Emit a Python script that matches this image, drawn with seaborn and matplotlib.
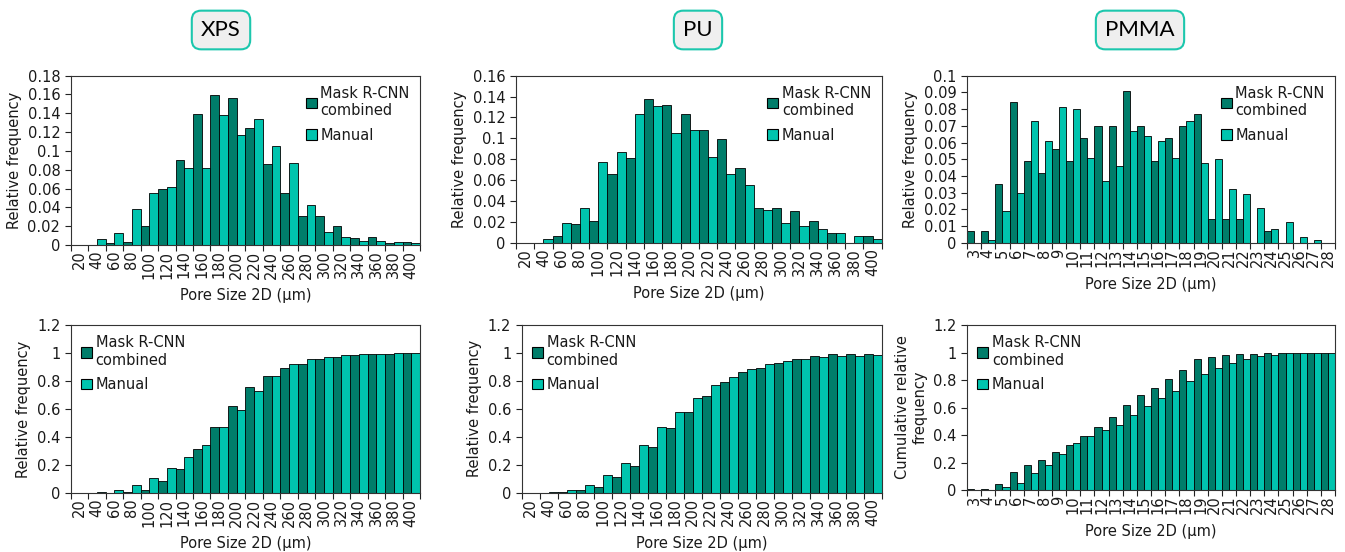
import numpy as np
import pandas as pd
import seaborn as sns
import matplotlib.pyplot as plt
from matplotlib.patches import Patch

# bins
um_sizes = [20, 40, 60, 80, 100, 120, 140, 160, 180, 200, 220, 240, 260, 280, 300,
            320, 340, 360, 380, 400]
pmma_sizes = list(range(3, 29))

# relative frequency (top row)
xps_mask = [0, 0, 0.002, 0.003, 0.020, 0.059, 0.090, 0.139, 0.159, 0.156, 0.124, 0.086,
            0.055, 0.031, 0.031, 0.020, 0.007, 0.009, 0.002, 0.003]
xps_manual = [0, 0.006, 0.013, 0.038, 0.055, 0.062, 0.082, 0.082, 0.138, 0.117, 0.134,
              0.105, 0.087, 0.043, 0.014, 0.009, 0.004, 0.004, 0.003, 0.002]
pu_mask = [0, 0, 0.006, 0.018, 0.021, 0.066, 0.081, 0.138, 0.132, 0.123, 0.108, 0.099,
           0.072, 0.033, 0.033, 0.030, 0.021, 0.009, 0, 0.006]
pu_manual = [0, 0.004, 0.019, 0.033, 0.077, 0.087, 0.123, 0.131, 0.105, 0.108, 0.082,
             0.066, 0.055, 0.031, 0.019, 0.016, 0.013, 0.009, 0.006, 0.004]
pmma_mask = [0.007, 0.007, 0.035, 0.084, 0.049, 0.042, 0.056, 0.049, 0.063, 0.070, 0.070,
             0.091, 0.070, 0.049, 0.063, 0.070, 0.077, 0.014, 0.014, 0.014, 0, 0.007,
             0, 0, 0, 0]
pmma_manual = [0, 0.0015, 0.019, 0.030, 0.073, 0.061, 0.081, 0.080, 0.051, 0.037, 0.046,
               0.067, 0.064, 0.061, 0.051, 0.073, 0.048, 0.050, 0.032, 0.029, 0.021,
               0.008, 0.0125, 0.0035, 0.0015, 0]

# cumulative (bottom row)
xps_mask_cum = [0, 0, 0.003, 0.005, 0.022, 0.084, 0.17, 0.315, 0.47, 0.625, 0.755, 0.838,
                0.89, 0.925, 0.955, 0.975, 0.985, 0.993, 0.995, 1.0]
xps_manual_cum = [0, 0.006, 0.02, 0.055, 0.11, 0.175, 0.255, 0.34, 0.475, 0.59, 0.73,
                  0.835, 0.918, 0.96, 0.975, 0.985, 0.99, 0.995, 1.0, 1.0]
pu_mask_cum = [0, 0, 0.005, 0.02, 0.04, 0.11, 0.19, 0.33, 0.46, 0.58, 0.69, 0.795, 0.865,
               0.895, 0.93, 0.96, 0.98, 0.99, 0.99, 0.995]
pu_manual_cum = [0, 0.004, 0.02, 0.055, 0.13, 0.215, 0.34, 0.47, 0.575, 0.68, 0.77, 0.83,
                 0.885, 0.92, 0.94, 0.955, 0.97, 0.975, 0.98, 0.985]
pmma_mask_cum = [0.007, 0.01, 0.045, 0.13, 0.18, 0.22, 0.275, 0.325, 0.39, 0.46, 0.53,
                 0.62, 0.69, 0.74, 0.805, 0.875, 0.95, 0.965, 0.98, 0.99, 0.99, 1.0, 1.0,
                 1.0, 1.0, 1.0]
pmma_manual_cum = [0, 0.002, 0.02, 0.05, 0.125, 0.185, 0.265, 0.345, 0.395, 0.435, 0.475,
                   0.545, 0.61, 0.67, 0.72, 0.795, 0.845, 0.89, 0.925, 0.955, 0.975, 0.985,
                   0.995, 1.0, 1.0, 1.0]

titles = ["XPS", "PU", "PMMA"]
methods = ["Mask R-CNN\ncombined", "Manual"]
colors = ["#007d6a", "#00c4ae"]

sns.set_style("ticks")
plt.rcParams['font.family'] = ['DejaVu Sans']
plt.rcParams['text.color'] = '#1a1a1a'
plt.rcParams['axes.labelcolor'] = '#1a1a1a'
plt.rcParams['xtick.color'] = '#1a1a1a'
plt.rcParams['ytick.color'] = '#1a1a1a'

fig = plt.figure(figsize=(13.45, 5.52), dpi=100)

panels = [
    # sizes, mask, manual, ymax, ystep, ylabel, rect, legend corner
    (um_sizes, xps_mask, xps_manual, 0.18, 0.02, "Relative frequency",
     [0.0526, 0.5562, 0.2597, 0.3067], "upper right"),
    (um_sizes, pu_mask, pu_manual, 0.16, 0.02, "Relative frequency",
     [0.3836, 0.5603, 0.2719, 0.3025], "upper right"),
    (pmma_sizes, pmma_mask, pmma_manual, 0.1, 0.01, "Relative frequency",
     [0.719, 0.5603, 0.2736, 0.3025], "upper right"),
    (um_sizes, xps_mask_cum, xps_manual_cum, 1.2, 0.2, "Relative frequency",
     [0.0526, 0.1069, 0.2597, 0.3043], "upper left"),
    (um_sizes, pu_mask_cum, pu_manual_cum, 1.2, 0.2, "Relative frequency",
     [0.3879, 0.1074, 0.2677, 0.3038], "upper left"),
    (pmma_sizes, pmma_mask_cum, pmma_manual_cum, 1.2, 0.2,
     "Cumulative relative\nfrequency", [0.719, 0.1123, 0.2736, 0.2989], "upper left"),
]

for sizes, mask, manual, ymax, ystep, ylabel, rect, corner in panels:
    ax = fig.add_axes(rect)
    n = len(sizes)
    df = pd.DataFrame({
        "size": [str(s) for s in sizes] * 2,
        "value": list(mask) + list(manual),
        "method": [methods[0]] * n + [methods[1]] * n,
    })
    sns.barplot(data=df, x="size", y="value", hue="method", hue_order=methods,
                order=[str(s) for s in sizes], palette=colors, saturation=1,
                width=1.0, gap=0, edgecolor="black", linewidth=0.6, legend=False,
                ax=ax)
    ax.set_xlim(-0.5, n - 0.5)
    ax.set_ylim(0, ymax)
    yt = np.round(np.arange(0, ymax + ystep / 2, ystep), 3)
    ax.set_yticks(yt)
    ax.set_yticklabels([f"{v:g}" for v in yt], fontsize=10.5)
    ax.set_xticks(range(n))
    ax.set_xticklabels([str(s) for s in sizes], rotation=90, fontsize=10.5)
    ax.set_xticks(np.arange(-0.5, n, 1.0), minor=True)
    ax.tick_params(axis="x", which="major", length=0, pad=4)
    ax.tick_params(axis="x", which="minor", length=4, width=0.8, color="#222222")
    ax.tick_params(axis="y", length=4, width=0.8, color="#222222")
    for sp in ax.spines.values():
        sp.set_color("#333333")
        sp.set_linewidth(0.8)
    ax.set_xlabel("Pore Size 2D (µm)", fontsize=10.5, labelpad=7)
    ax.set_ylabel(ylabel, fontsize=10.5)
    handles = [Patch(facecolor=c, edgecolor="black", linewidth=0.8) for c in colors]
    ax.legend(handles, methods, loc=corner, frameon=False, fontsize=10.5,
              handlelength=0.75, handleheight=0.75, handletextpad=0.25,
              labelspacing=0.65, borderaxespad=0.3)

# boxed material names
for name, cx in zip(titles, [221, 698, 1140]):
    fig.text(cx / 1345, 1 - 30 / 552, name, ha="center", va="center",
             fontsize=16, family="Lato", color="black",
             bbox=dict(boxstyle="round,pad=0.42", facecolor="#efefef",
                       edgecolor="#1cc7ad", linewidth=1.5))

fig.savefig("out.png", dpi=100)
